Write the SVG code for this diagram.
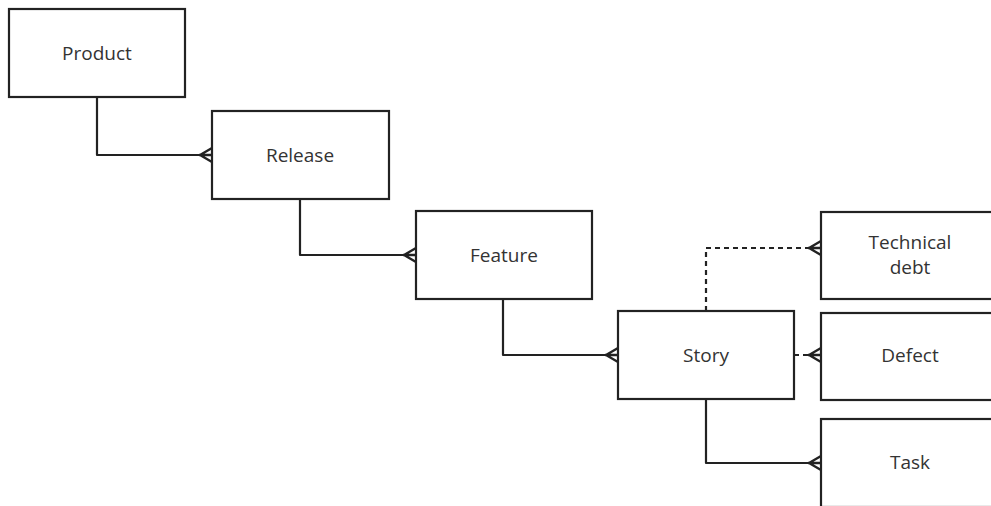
<svg xmlns="http://www.w3.org/2000/svg" width="991" height="506" viewBox="0 0 991 506">
<defs>
<style>
.box{fill:#fff;stroke:#222;stroke-width:2.2}
.lbl{font-family:"Open Sans","Liberation Sans",sans-serif;font-size:19px;fill:#333;text-anchor:middle}
.c{fill:none;stroke:#222;stroke-width:2.2;stroke-linejoin:round}
.d{stroke-dasharray:5 4}
</style>
<marker id="crow" markerUnits="userSpaceOnUse" markerWidth="16" markerHeight="18" refX="13" refY="9" orient="auto" viewBox="0 0 16 18">
<path d="M0 9 H13 M13 2 L1 9 L13 16" fill="none" stroke="#222" stroke-width="2.4"/>
</marker>
</defs>
<rect width="991" height="506" fill="#fff"/>
<g id="connectors">
<path class="c" d="M97 97 V155 H212" marker-end="url(#crow)"/>
<path class="c" d="M300 199 V255 H416" marker-end="url(#crow)"/>
<path class="c" d="M503 299 V355 H618" marker-end="url(#crow)"/>
<path class="c d" d="M706 311 V248 H821" marker-end="url(#crow)"/>
<path class="c d" d="M794 355 H821" marker-end="url(#crow)"/>
<path class="c" d="M706 399 V463 H821" marker-end="url(#crow)"/>
</g>
<g id="product"><rect class="box" x="9" y="9" width="176" height="88"/><text class="lbl" x="97" y="60">Product</text></g>
<g id="release"><rect class="box" x="212" y="111" width="177" height="88"/><text class="lbl" x="300" y="162">Release</text></g>
<g id="feature"><rect class="box" x="416" y="211" width="176" height="88"/><text class="lbl" x="504" y="262">Feature</text></g>
<g id="story"><rect class="box" x="618" y="311" width="176" height="88"/><text class="lbl" x="706" y="362">Story</text></g>
<g id="technical-debt"><rect class="box" x="821" y="212" width="176" height="87"/><text class="lbl" x="910" y="249">Technical</text><text class="lbl" x="910" y="274">debt</text></g>
<g id="defect"><rect class="box" x="821" y="313" width="176" height="87"/><text class="lbl" x="910" y="362">Defect</text></g>
<g id="task"><rect class="box" x="821" y="419" width="176" height="88"/><text class="lbl" x="910" y="469">Task</text></g>
</svg>
